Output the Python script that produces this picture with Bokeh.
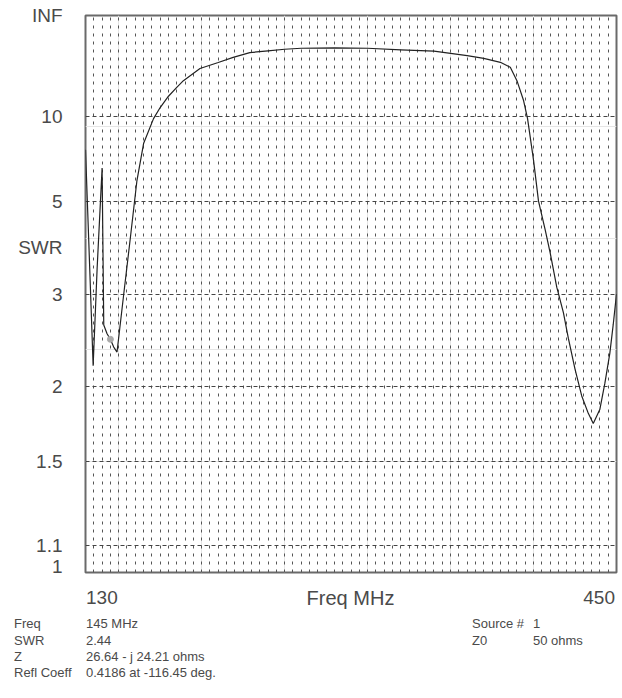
import math
from bokeh.plotting import figure
from bokeh.models import FixedTicker, LinearAxis, Range1d, Grid, Div
from bokeh.layouts import column
from bokeh.embed import file_html
from bokeh.resources import INLINE

# ---------------- data ----------------
freq_mhz = [130, 132, 134.6, 137, 140, 141, 143, 145, 147, 149, 153, 157, 161,
            165, 171, 175, 180, 185, 189, 199, 210, 219, 229, 240, 250, 260,
            280, 300, 320, 340, 360, 370, 380, 386, 390, 394, 396.4, 400, 403,
            407, 410, 414, 418, 421, 425, 429, 433, 436, 440, 443, 446, 448, 450]
swr = [7.3, 3.9, 2.18, 3.4, 6.3, 2.6, 2.5, 2.44, 2.36, 2.31, 2.99, 4.0, 5.75,
       7.7, 9.8, 11.1, 12.8, 14.5, 16.1, 20.0, 22.7, 25.6, 29.0, 30.5, 32.0, 33.0,
       33.5, 33.0, 31.5, 30.2, 26.8, 25.0, 22.8, 20.5, 16.1, 12.1, 9.8, 6.7, 5.0,
       4.2, 3.7, 3.1, 2.75, 2.45, 2.15, 1.93, 1.8, 1.73, 1.83, 2.03, 2.3, 2.6, 3.0]

swr_tick_values = [1, 1.1, 1.5, 2, 3, 5, 10, math.inf]
swr_tick_labels = ["1", "1.1", "1.5", "2", "3", "5", "10", "INF"]
swr_grid_values = [1.1, 1.5, 2, 3, 5, 10]
freq_start, freq_end, freq_grid_step = 130, 450, 5
freq_tick_labels = ["130", "450"]
freq_axis_title = "Freq MHz"

cursor_freq = [145]
cursor_swr = [2.44]

info_names = ["Freq", "SWR", "Z", "Refl Coeff"]
info_values = ["145 MHz", "2.44", "26.64 - j 24.21 ohms", "0.4186 at -116.45 deg."]
source_names = ["Source #", "Z0"]
source_values = ["1", "50 ohms"]


def rho(s):
    """SWR -> magnitude of reflection coefficient (the chart's vertical scale)."""
    if math.isinf(s):
        return 1.0
    return (s - 1.0) / (s + 1.0)


FONT = "Liberation Sans"
TXT = "#4a4a4a"
W = 622
FIG_H = 576
DIV_H = 698 - FIG_H
FRAME_L, FRAME_R = 85, 6

p = figure(width=W, height=FIG_H,
           x_range=Range1d(freq_start, freq_end), y_range=Range1d(0, 1),
           output_backend="svg", toolbar_location=None,
           x_axis_location=None, y_axis_location=None,
           min_border_left=FRAME_L, min_border_top=15, min_border_right=FRAME_R,
           min_border_bottom=4)
p.background_fill_color = "white"
p.border_fill_color = "white"
p.outline_line_color = "#6a6a6a"
p.outline_line_width = 2

# grids
xgrid = Grid(dimension=0,
             ticker=FixedTicker(ticks=list(range(freq_start + freq_grid_step, freq_end, freq_grid_step))),
             grid_line_color="#555555", grid_line_dash="3 5", grid_line_width=1)
ygrid = Grid(dimension=1, ticker=FixedTicker(ticks=[rho(s) for s in swr_grid_values]),
             grid_line_color="#444444", grid_line_dash="4 3", grid_line_width=1)
p.add_layout(xgrid)
p.add_layout(ygrid)

# left axis: SWR labels placed on reflection-coefficient positions,
# plus the "SWR" title midway between the 5 and 3 lines
yticks = [rho(s) for s in swr_tick_values]
swr_title_pos = (rho(5) + rho(3)) / 2
overrides = {t: l for t, l in zip(yticks, swr_tick_labels)}
overrides[swr_title_pos] = "SWR"
yaxis = LinearAxis(ticker=FixedTicker(ticks=yticks + [swr_title_pos]),
                   major_label_overrides=overrides,
                   axis_line_color=None, major_tick_line_color=None,
                   minor_tick_line_color=None, major_label_standoff=17,
                   major_label_text_font=FONT, major_label_text_font_size="19px",
                   major_label_text_color=TXT)
p.add_layout(yaxis, "left")

# curve
p.line(freq_mhz, [rho(s) for s in swr], line_color="#222222", line_width=1.2)
p.scatter(cursor_freq, [rho(s) for s in cursor_swr], size=6, color="#aaaaaa")

# ---------------- text area below the plot ----------------
def span(text, left=None, right=None, top=0, size=13, lh=16, extra=""):
    pos = f"left:{left}px;" if left is not None else f"right:{right}px;"
    return (f'<span style="position:absolute;{pos}top:{top}px;font-size:{size}px;'
            f'line-height:{lh}px;white-space:nowrap;{extra}">{text}</span>')


parts = []
# frequency axis row
row0_top = 10
parts.append(span(freq_tick_labels[0], left=FRAME_L + 1, top=row0_top, size=19, lh=24))
parts.append(span(freq_tick_labels[1], right=FRAME_R + 1, top=row0_top, size=19, lh=24))
parts.append(span(freq_axis_title, left=FRAME_L, top=row0_top, size=20, lh=24,
                  extra=f"width:{W - FRAME_L - FRAME_R}px;text-align:center;"))
# info rows
row_tops = [40, 57, 73, 89]
for name, val, t in zip(info_names, info_values, row_tops):
    parts.append(span(name, left=14, top=t))
    parts.append(span(val, left=86, top=t))
for name, val, t in zip(source_names, source_values, row_tops[:2]):
    parts.append(span(name, left=472, top=t))
    parts.append(span(val, left=533, top=t))

html = (f'<div style="position:relative;width:{W}px;height:{DIV_H}px;'
        f"font-family:'{FONT}',Arial,sans-serif;color:{TXT};\">" + "".join(parts) + "</div>")
div = Div(text=html, width=W, height=DIV_H, margin=0)

layout = column(p, div, spacing=0)
open("out.html", "w").write(file_html(layout, INLINE))
